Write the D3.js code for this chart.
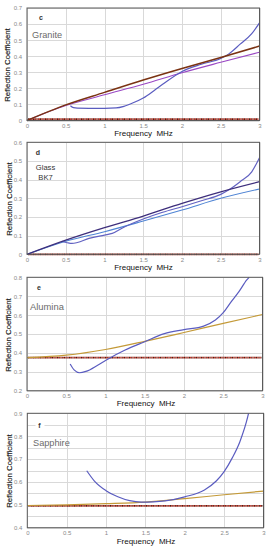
<!DOCTYPE html>
<html><head><meta charset="utf-8">
<script src="https://cdn.jsdelivr.net/npm/d3@7"></script>
<style>
html,body{margin:0;padding:0;background:#fff;}
svg{display:block;font-family:"Liberation Sans",Arial,sans-serif;}
</style></head>
<body><svg id="chart" width="269" height="550"></svg>
<script>
// ---------- DATA ----------
const freqTicks = [0, 0.5, 1, 1.5, 2, 2.5, 3];
const freqTickLabels = ["0", "0.5", "1", "1.5", "2", "2.5", "3"];

// Granite (c)
const graniteYTicks = [0, 0.1, 0.2, 0.3, 0.4, 0.5, 0.6, 0.7];
const graniteLineF = [0, 0.5, 1, 1.5, 2, 2.5, 3];
const graniteBrown = [0, 0.097, 0.175, 0.252, 0.324, 0.392, 0.463];
const granitePurple = [0, 0.093, 0.16, 0.225, 0.297, 0.362, 0.425];
const graniteCurveF = [0.56, 0.6, 0.65, 0.8, 1.0, 1.15, 1.25, 1.37, 1.5, 1.65, 1.75, 2, 2.25, 2.5, 2.6, 2.75, 2.9, 3];
const graniteCurve = [0.092, 0.08, 0.077, 0.076, 0.076, 0.078, 0.088, 0.11, 0.14, 0.19, 0.225, 0.305, 0.35, 0.386, 0.413, 0.475, 0.54, 0.607];
const graniteRef = 0.008;

// Glass BK7 (d)
const glassYTicks = [0, 0.1, 0.2, 0.3, 0.4, 0.5, 0.6];
const glassLineF = [0, 0.5, 1, 1.5, 2, 2.5, 3];
const glassDark = [0, 0.076, 0.143, 0.205, 0.273, 0.335, 0.389];
const glassBlue = [0, 0.07, 0.121, 0.178, 0.237, 0.3, 0.35];
const glassCurveF = [0.45, 0.52, 0.58, 0.65, 0.8, 1.0, 1.1, 1.25, 1.5, 1.75, 2, 2.25, 2.5, 2.6, 2.75, 2.9, 3];
const glassCurve = [0.07, 0.062, 0.058, 0.063, 0.085, 0.103, 0.112, 0.145, 0.189, 0.225, 0.255, 0.287, 0.321, 0.344, 0.389, 0.442, 0.517];
const glassRef = 0.0;

// Alumina (e)
const aluminaYTicks = [0.2, 0.3, 0.4, 0.5, 0.6, 0.7, 0.8];
const aluminaGoldF = [0, 0.5, 1, 1.5, 2, 2.5, 3];
const aluminaGold = [0.375, 0.388, 0.418, 0.461, 0.508, 0.556, 0.603];
const aluminaCurveF = [0.55, 0.6, 0.67, 0.75, 0.9, 1.0, 1.25, 1.5, 1.75, 2, 2.25, 2.4, 2.5, 2.6, 2.7, 2.8, 2.83];
const aluminaCurve = [0.341, 0.31, 0.295, 0.302, 0.335, 0.36, 0.415, 0.459, 0.502, 0.523, 0.542, 0.574, 0.613, 0.67, 0.724, 0.786, 0.8];
const aluminaRef = 0.375;

// Sapphire (f)
const sapphireYTicks = [0.4, 0.5, 0.6, 0.7, 0.8, 0.9];
const sapphireGridY = [0.4, 0.45, 0.5, 0.55, 0.6, 0.65, 0.7, 0.75, 0.8, 0.85, 0.9];
const sapphireGoldF = [0, 0.5, 1, 1.5, 2, 2.5, 3];
const sapphireGold = [0.497, 0.5, 0.505, 0.512, 0.527, 0.544, 0.56];
const sapphireCurveF = [0.755, 0.85, 1.0, 1.15, 1.3, 1.45, 1.6, 1.75, 2, 2.25, 2.4, 2.5, 2.6, 2.7, 2.8, 2.81];
const sapphireCurve = [0.649, 0.605, 0.562, 0.535, 0.518, 0.512, 0.513, 0.517, 0.535, 0.565, 0.604, 0.645, 0.703, 0.776, 0.885, 0.9];
const sapphireRef = 0.495;

// ---------- DRAW ----------
const svg = d3.select("#chart");
const zip = (a, b) => a.map((v, i) => [v, b[i]]);

function panel(cfg) {
  const g = svg.append("g");
  const x = d3.scaleLinear().domain([0, 3]).range([cfg.x0, cfg.x1]);
  const y = d3.scaleLinear().domain(cfg.yDomain).range([cfg.y1, cfg.y0]);

  // gridlines
  g.selectAll(".hg").data(cfg.gridY).join("line")
    .attr("x1", cfg.x0).attr("x2", cfg.x1)
    .attr("y1", d => Math.round(y(d)) + 0.5).attr("y2", d => Math.round(y(d)) + 0.5)
    .attr("stroke", "#d9d9d9").attr("stroke-width", 1);
  g.selectAll(".vg").data(freqTicks).join("line")
    .attr("x1", d => Math.round(x(d)) + 0.5).attr("x2", d => Math.round(x(d)) + 0.5)
    .attr("y1", cfg.y0).attr("y2", cfg.y1)
    .attr("stroke", "#d9d9d9").attr("stroke-width", 1);

  // axes (labels only) via d3 axes
  const yAxis = d3.axisLeft(y).tickValues(cfg.yTicks).tickSize(0).tickPadding(5)
    .tickFormat(d => d === 0 ? "0" : d3.format(".1f")(d));
  const ya = g.append("g").attr("transform", `translate(${cfg.x0},0)`).call(yAxis);
  ya.select(".domain").remove();
  ya.selectAll("text").attr("fill", "#8a8a8a").attr("font-size", 6)
    .attr("font-family", "Liberation Sans, Arial, sans-serif");

  const xAxis = d3.axisBottom(x).tickValues(freqTicks).tickSize(0).tickPadding(3.5)
    .tickFormat((d, i) => freqTickLabels[i]);
  const xa = g.append("g").attr("transform", `translate(0,${cfg.y1})`).call(xAxis);
  xa.select(".domain").remove();
  xa.selectAll("text").attr("fill", "#8a8a8a").attr("font-size", 6)
    .attr("font-family", "Liberation Sans, Arial, sans-serif");

  // label backgrounds + labels
  if (cfg.letterBg) {
    g.append("rect").attr("x", cfg.letter[0] - 4).attr("y", cfg.letter[1] - 7)
      .attr("width", 9).attr("height", 9).attr("fill", "#fff");
  }
  g.append("text").attr("x", cfg.letter[0]).attr("y", cfg.letter[1])
    .attr("font-size", 7).attr("font-weight", "bold").attr("fill", "#333")
    .attr("text-anchor", "middle").text(cfg.letterText);
  cfg.names.forEach((n, i) => {
    g.append("text").attr("x", cfg.name[0]).attr("y", cfg.name[1] + i * cfg.nameStep)
      .attr("font-size", cfg.nameSize).attr("fill", cfg.nameColor)
      .attr("text-anchor", cfg.nameAnchor).text(n);
  });

  const line = d3.line().x(d => x(d[0])).y(d => y(d[1])).curve(d3.curveMonotoneX);

  // reference dotted line
  g.append("line").attr("x1", cfg.x0 + 1).attr("x2", cfg.x1 - 1)
    .attr("y1", y(cfg.ref)).attr("y2", y(cfg.ref))
    .attr("stroke", "#4a2418").attr("stroke-width", 1.8).attr("stroke-dasharray", "1.2,1.2");
  g.append("line").attr("x1", cfg.x0 + 1).attr("x2", cfg.x1 - 1)
    .attr("y1", y(cfg.ref)).attr("y2", y(cfg.ref))
    .attr("stroke", "#c8382c").attr("stroke-width", 1.8).attr("stroke-dasharray", "1.2,1.2")
    .attr("stroke-dashoffset", 1.2);

  cfg.series.forEach(s => {
    g.append("path").datum(zip(s.f, s.r)).attr("d", line)
      .attr("fill", "none").attr("stroke", s.color).attr("stroke-width", s.w || 1.2);
  });

  // frame
  g.append("rect").attr("x", cfg.x0).attr("y", cfg.y0)
    .attr("width", cfg.x1 - cfg.x0).attr("height", cfg.y1 - cfg.y0)
    .attr("fill", "none").attr("stroke", "#5a5a5a").attr("stroke-width", 1);

  // axis titles
  g.append("text").attr("x", cfg.fx).attr("y", cfg.fy).attr("text-anchor", "middle")
    .attr("font-size", 8).attr("fill", "#111").attr("xml:space", "preserve")
    .text("Frequency  MHz");
  g.append("text").attr("transform", `translate(${cfg.ryx},${cfg.ryy}) rotate(-90)`)
    .attr("text-anchor", "middle").attr("font-size", 7.8).attr("fill", "#111")
    .attr("stroke", "#111").attr("stroke-width", 0.15)
    .text("Reflection Coefficient");
}

panel({
  x0: 27, x1: 259.5, y0: 8, y1: 120.5, yDomain: [0, 0.7],
  yTicks: graniteYTicks, gridY: graniteYTicks, ref: graniteRef,
  letter: [41, 20], letterText: "c", letterBg: false,
  names: ["Granite"], name: [32, 38], nameStep: 0, nameSize: 9.2, nameColor: "#6a6a6a", nameAnchor: "start",
  fx: 143.5, fy: 135.5, ryx: 10, ryy: 65,
  series: [
    {f: graniteLineF, r: granitePurple, color: "#9a48c4", w: 1.1},
    {f: graniteCurveF, r: graniteCurve, color: "#5a5cc0", w: 1.2},
    {f: graniteLineF, r: graniteBrown, color: "#7a3212", w: 1.5}
  ]
});

panel({
  x0: 27, x1: 259.5, y0: 142.3, y1: 254.3, yDomain: [0, 0.6],
  yTicks: glassYTicks, gridY: glassYTicks, ref: glassRef,
  letter: [38, 155], letterText: "d", letterBg: false,
  names: ["Glass", "BK7"], name: [45.5, 170], nameStep: 10, nameSize: 7.6, nameColor: "#333", nameAnchor: "middle",
  fx: 143.5, fy: 269.5, ryx: 12, ryy: 199,
  series: [
    {f: glassLineF, r: glassBlue, color: "#4f84d4", w: 1.1},
    {f: glassCurveF, r: glassCurve, color: "#6262c2", w: 1.2},
    {f: glassLineF, r: glassDark, color: "#3e2f7c", w: 1.3}
  ]
});

panel({
  x0: 27, x1: 262.5, y0: 277.3, y1: 390.7, yDomain: [0.2, 0.8],
  yTicks: aluminaYTicks, gridY: aluminaYTicks, ref: aluminaRef,
  letter: [39, 290], letterText: "e", letterBg: false,
  names: ["Alumina"], name: [30, 310], nameStep: 0, nameSize: 9.4, nameColor: "#6a6a6a", nameAnchor: "start",
  fx: 146, fy: 405.5, ryx: 11.3, ryy: 335,
  series: [
    {f: aluminaGoldF, r: aluminaGold, color: "#c49a38", w: 1.2},
    {f: aluminaCurveF, r: aluminaCurve, color: "#5a5cc0", w: 1.2}
  ]
});

panel({
  x0: 27.3, x1: 263.5, y0: 413.3, y1: 527.7, yDomain: [0.4, 0.9],
  yTicks: sapphireYTicks, gridY: sapphireGridY, ref: sapphireRef,
  letter: [39.5, 428], letterText: "f", letterBg: true,
  names: ["Sapphire"], name: [33, 445.5], nameStep: 0, nameSize: 9.2, nameColor: "#6a6a6a", nameAnchor: "start",
  fx: 146, fy: 544, ryx: 12.3, ryy: 471,
  series: [
    {f: sapphireGoldF, r: sapphireGold, color: "#c49a38", w: 1.2},
    {f: sapphireCurveF, r: sapphireCurve, color: "#5a5cc0", w: 1.2}
  ]
});
</script>
</body></html>
